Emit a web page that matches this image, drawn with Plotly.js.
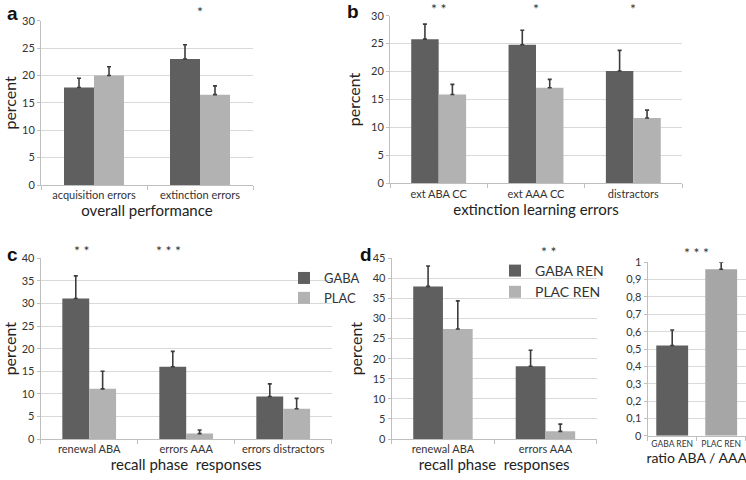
<!DOCTYPE html>
<html><head><meta charset="utf-8">
<script src="https://cdn.plot.ly/plotly-3.0.1.min.js"></script>
<style>body{margin:0;padding:0;background:#fff}#chart{width:746px;height:480px}</style>
</head><body><div id="chart"></div>
<script>
// Panel a
const catsA = ['acquisition errors', 'extinction errors'];
const gabaA = [17.8, 23.0];
const gabaAErr = [1.7, 2.6];
const placA = [20.0, 16.5];
const placAErr = [1.6, 1.6];
// Panel b
const catsB = ['ext ABA CC', 'ext AAA CC', 'distractors'];
const gabaB = [25.8, 24.8, 20.1];
const gabaBErr = [2.7, 2.6, 3.7];
const placB = [15.9, 17.1, 11.7];
const placBErr = [1.8, 1.5, 1.4];
// Panel c
const catsC = ['renewal ABA', 'errors AAA', 'errors distractors'];
const gabaC = [31.1, 16.0, 9.4];
const gabaCErr = [5.0, 3.4, 2.8];
const placC = [11.1, 1.2, 6.7];
const placCErr = [3.9, 0.8, 2.3];
// Panel d
const catsD = ['renewal ABA', 'errors AAA'];
const gabaD = [38.0, 18.1];
const gabaDErr = [5.1, 4.0];
const placD = [27.4, 1.9];
const placDErr = [7.0, 1.8];
// Panel e
const catsE = ['GABA REN', 'PLAC REN'];
const ratioE = [0.52, 0.96];
const ratioEErr = [0.09, 0.04];

const DARK = '#5f5f5f', LIGHT = '#b2b2b2', ERR = '#3c3c3c';
const FONT = 'Lato, "Open Sans", sans-serif';

function bar(x, y, err, color, name, xa, ya, w, off, legend) {
  const t = {
    type: 'bar', x: x, y: y, name: name, xaxis: xa, yaxis: ya,
    marker: {color: color, line: {width: 0}},
    width: w, offset: off,
    error_y: {type: 'data', array: err, arrayminus: err.map(() => 0), symmetric: false,
              color: ERR, thickness: 1.6, width: 2},
    showlegend: !!legend, hoverinfo: 'skip'
  };
  if (legend) t.legend = legend;
  return t;
}

const data = [
  bar(catsA, gabaA, gabaAErr, DARK, 'GABA', 'x', 'y', 0.283, -0.283),
  bar(catsA, placA, placAErr, LIGHT, 'PLAC', 'x', 'y', 0.283, 0),
  bar(catsB, gabaB, gabaBErr, DARK, 'GABA', 'x2', 'y2', 0.282, -0.282),
  bar(catsB, placB, placBErr, LIGHT, 'PLAC', 'x2', 'y2', 0.282, 0),
  bar(catsC, gabaC, gabaCErr, DARK, 'GABA', 'x3', 'y3', 0.277, -0.277, 'legend'),
  bar(catsC, placC, placCErr, LIGHT, 'PLAC', 'x3', 'y3', 0.277, 0, 'legend'),
  bar(catsD, gabaD, gabaDErr, DARK, 'GABA REN', 'x4', 'y4', 0.29, -0.29, 'legend2'),
  bar(catsD, placD, placDErr, LIGHT, 'PLAC REN', 'x4', 'y4', 0.29, 0, 'legend2'),
  {
    type: 'bar', x: catsE, y: ratioE, xaxis: 'x5', yaxis: 'y5', width: 0.65,
    marker: {color: [DARK, '#a6a6a6']}, showlegend: false, hoverinfo: 'skip',
    error_y: {type: 'data', array: ratioEErr, arrayminus: ratioEErr.map(() => 0), symmetric: false,
              color: ERR, thickness: 1.6, width: 2}
  }
];

const W = 746, H = 480;
const px = v => v / W, py = v => 1 - v / H;

function xax(l, r, size, title, tsize, anchor) {
  return {
    domain: [px(l), px(r)], type: 'category', showgrid: false, zeroline: false,
    anchor: anchor, tickangle: 0,
    showline: true, linecolor: '#bfbfbf', linewidth: 1,
    ticks: 'outside', tickson: 'boundaries', ticklen: 4, tickcolor: '#bfbfbf',
    tickfont: {family: FONT, size: size, color: '#333'},
    title: {text: title, font: {family: FONT, size: tsize, color: '#222'}, standoff: 4},
    fixedrange: true
  };
}
function yax(top, bot, max, dtick, title, anchor) {
  const o = {
    domain: [py(bot), py(top)], range: [0, max], dtick: dtick, tick0: 0,
    showgrid: true, gridcolor: '#d9d9d9', gridwidth: 1, zeroline: false,
    showline: true, linecolor: '#bfbfbf', linewidth: 1,
    ticks: 'outside', ticklen: 3, tickcolor: '#bfbfbf',
    tickfont: {family: FONT, size: 11, color: '#333'},
    anchor: anchor, fixedrange: true
  };
  if (title) o.title = {text: title, font: {family: FONT, size: 16, color: '#222'}, standoff: 6};
  return o;
}

function star(text, x, xa, y, xshift) {
  return {text: text, x: x, xref: xa, y: y, yref: 'paper', showarrow: false,
          xshift: xshift || 0, font: {family: FONT, size: 14, color: '#333'}, yanchor: 'middle'};
}
function letter(t, x, y) {
  return {text: '<b>' + t + '</b>', x: px(x), y: py(y), xref: 'paper', yref: 'paper',
          showarrow: false, xanchor: 'left', yanchor: 'middle',
          font: {family: 'Liberation Sans, Arial, sans-serif', size: 19, color: '#111'}};
}

const layout = {
  width: W, height: H, margin: {l: 0, r: 0, t: 0, b: 0},
  paper_bgcolor: '#fff', plot_bgcolor: '#fff', barmode: 'overlay',
  separators: ',.',
  font: {family: FONT, color: '#333'},
  xaxis: xax(41, 253, 11, 'overall performance', 15, 'y'),
  yaxis: yax(20.7, 185, 30, 5, 'percent', 'x'),
  xaxis2: xax(390, 682, 11, 'extinction learning errors', 15, 'y2'),
  yaxis2: yax(15.7, 183.3, 30, 5, 'percent', 'x2'),
  xaxis3: xax(40.7, 331.7, 11, 'recall phase  responses', 15, 'y3'),
  yaxis3: yax(258.3, 439, 40, 5, 'percent', 'x3'),
  xaxis4: xax(391.7, 596.7, 11, 'recall phase  responses', 15, 'y4'),
  yaxis4: yax(258.3, 439, 45, 5, 'percent', 'x4'),
  xaxis5: xax(647.7, 745.7, 8.5, 'ratio ABA / AAA', 14, 'y5'),
  yaxis5: yax(262.3, 435.7, 1, 0.1, null, 'x5'),
  legend: {x: px(284), y: py(263), xanchor: 'left', yanchor: 'top', bgcolor: 'rgba(0,0,0,0)',
           font: {family: FONT, size: 13, color: '#333'}, itemwidth: 30, tracegroupgap: 0},
  legend2: {x: px(495), y: py(255), xanchor: 'left', yanchor: 'top', bgcolor: 'rgba(0,0,0,0)',
            font: {family: FONT, size: 14, color: '#333'}, itemwidth: 30, tracegroupgap: 0},
  annotations: [
    letter('a', 5, 13), letter('b', 345, 11), letter('c', 5, 254), letter('d', 358, 254),
    star('*', catsA[1], 'x', py(11), 0),
    star('* *', catsB[0], 'x2', py(8), 0),
    star('*', catsB[1], 'x2', py(8), 0),
    star('*', catsB[2], 'x2', py(8), 0),
    star('* *', catsC[0], 'x3', py(250), -7),
    star('* * *', catsC[1], 'x3', py(250), -18),
    star('* *', catsD[1], 'x4', py(251), 4),
    {text: '* * *', x: 0.5, xref: 'x5 domain', y: py(252), yref: 'paper', showarrow: false,
     font: {family: FONT, size: 14, color: '#333'}}
  ]
};

Plotly.newPlot('chart', data, layout, {displayModeBar: false, staticPlot: true});
</script></body></html>
